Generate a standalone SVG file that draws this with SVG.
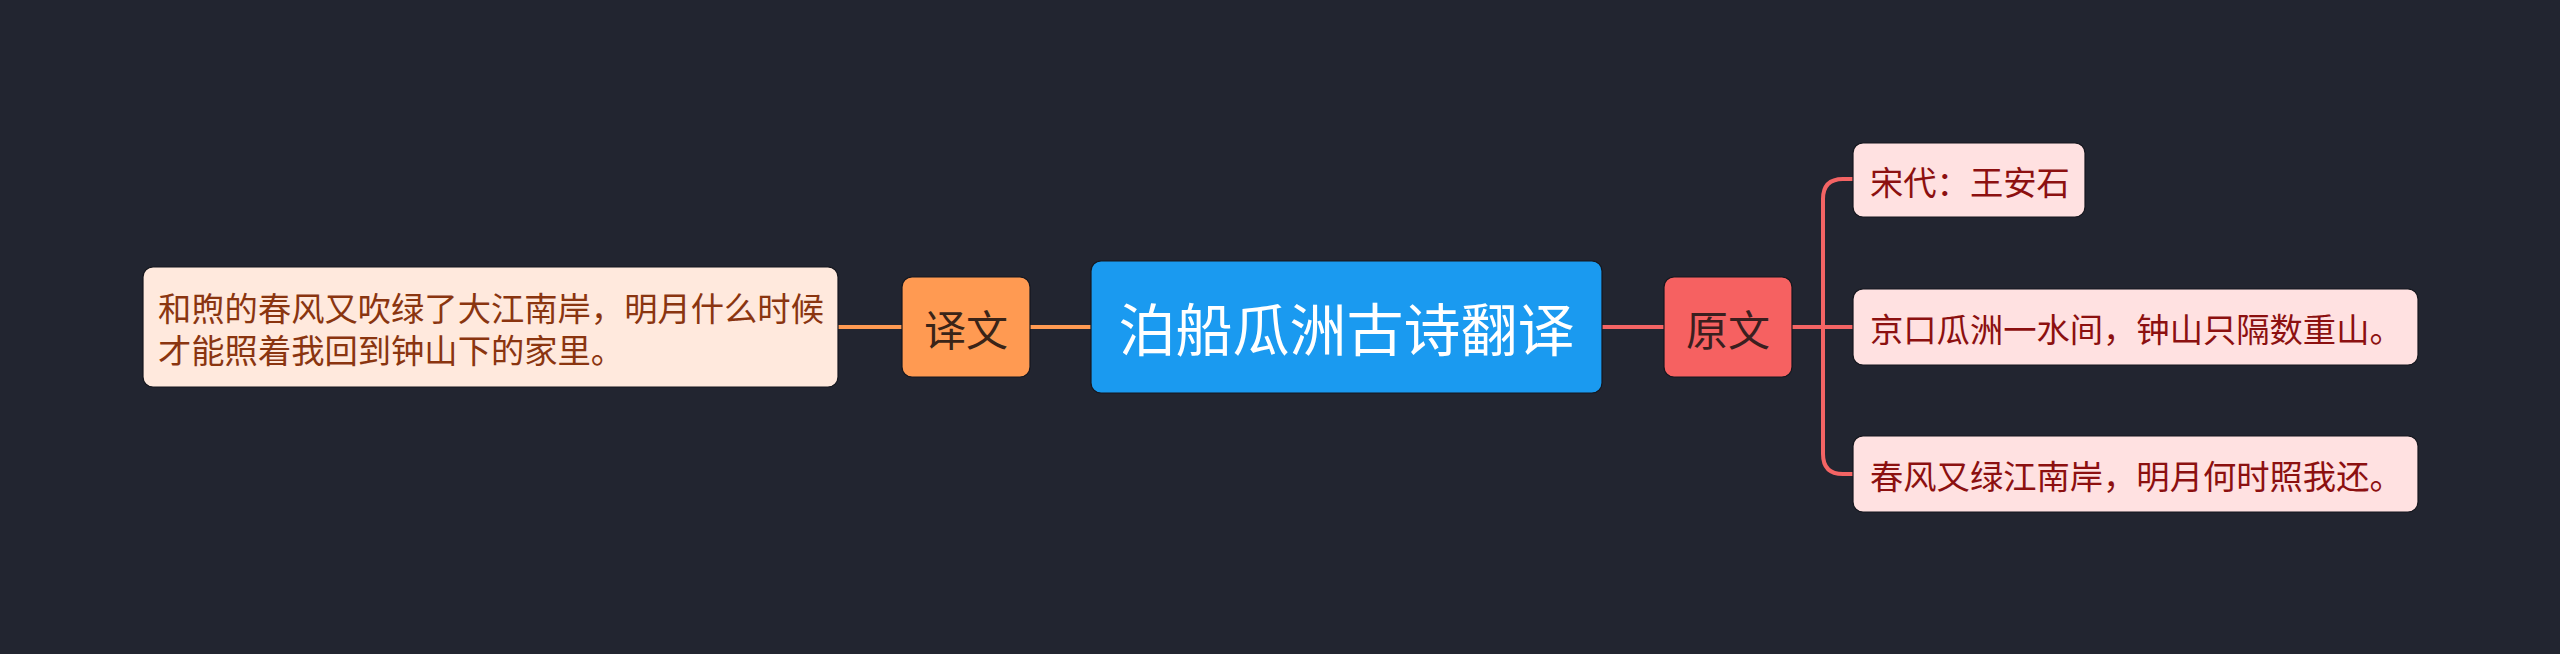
<svg xmlns="http://www.w3.org/2000/svg" width="2560" height="654" viewBox="0 0 2560 654">
<style>
text{font-family:"Noto Sans CJK SC","Noto Sans",sans-serif;dominant-baseline:central}
.box{stroke:#15171e;stroke-width:1.2}
.ol{stroke:#ff9a52;stroke-width:4;fill:none}
.rl{stroke:#f46464;stroke-width:4;fill:none}
.leaf{font-size:33.3px}
</style>
<rect x="0" y="0" width="2560" height="654" fill="#222530"/>
<g id="connectors">
<path class="ol" d="M838,327 H902 M1030,327 H1091"/>
<path class="rl" d="M1602,327 H1664 M1792,327 H1854 M1854,179 H1843 Q1823,179 1823,199 V454 Q1823,474 1843,474 H1854"/>
</g>
<g id="root">
<rect class="box" x="1091" y="261" width="511" height="132" rx="10" fill="#1a9af0"/>
<text x="1346.5" y="326" font-size="57" fill="#ffffff" text-anchor="middle">泊船瓜洲古诗翻译</text>
</g>
<g id="yiwen">
<rect class="box" x="902" y="277" width="128" height="100" rx="10" fill="#ff9a52"/>
<text x="966" y="327" font-size="42" fill="#3a2418" text-anchor="middle">译文</text>
</g>
<g id="yiwen-text">
<rect class="box" x="143" y="267" width="695" height="120" rx="10" fill="#ffe9dd"/>
<text class="leaf" fill="#8a3510"><tspan x="158" y="305.5">和煦的春风又吹绿了大江南岸，明月什么时候</tspan><tspan x="158" y="347.5">才能照着我回到钟山下的家里。</tspan></text>
</g>
<g id="yuanwen">
<rect class="box" x="1664" y="277" width="128" height="100" rx="10" fill="#f66161"/>
<text x="1728" y="327" font-size="42" fill="#3a1f1f" text-anchor="middle">原文</text>
</g>
<g id="author">
<rect class="box" x="1853" y="143" width="232" height="74" rx="10" fill="#ffe1e1"/>
<text class="leaf" x="1870" y="180" fill="#8c1010">宋代：王安石</text>
</g>
<g id="line1">
<rect class="box" x="1853" y="289" width="565" height="76" rx="10" fill="#ffe1e1"/>
<text class="leaf" x="1870" y="327" fill="#8c1010">京口瓜洲一水间，钟山只隔数重山。</text>
</g>
<g id="line2">
<rect class="box" x="1853" y="436" width="565" height="76" rx="10" fill="#ffe1e1"/>
<text class="leaf" x="1870" y="474" fill="#8c1010">春风又绿江南岸，明月何时照我还。</text>
</g>
</svg>
